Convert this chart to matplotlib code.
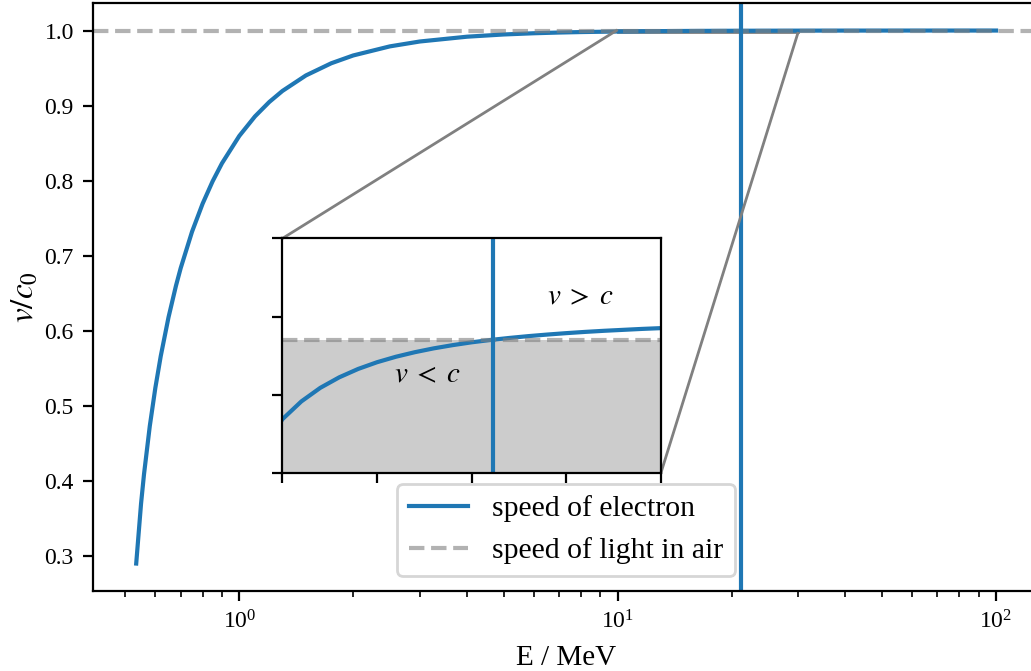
import matplotlib
matplotlib.use("Agg")
import matplotlib.pyplot as plt
from mpl_toolkits.axes_grid1.inset_locator import mark_inset

plt.rcParams['font.family'] = ['Liberation Serif', 'DejaVu Serif']
plt.rcParams['mathtext.fontset'] = 'stix'

# energy of the electron in MeV and its speed v/c0
energy = [0.534, 0.55, 0.56, 0.58, 0.6, 0.62, 0.65, 0.68, 0.7, 0.75, 0.8, 0.85,
          0.9, 1.0, 1.1, 1.2, 1.3, 1.5, 1.75, 2.0, 2.5, 3.0, 4.0, 5.0, 6.0,
          7.0, 8.0, 10, 11, 12, 13, 14, 15, 16, 17, 18, 19, 20, 21, 22, 23,
          24, 25, 26, 27, 28, 29, 30, 40, 60, 100]
speed = [0.290, 0.3699, 0.4091, 0.4731, 0.5241, 0.5663, 0.6180, 0.6598,
         0.6835, 0.7320, 0.7694, 0.7991, 0.8232, 0.8596, 0.8856, 0.9048,
         0.9195, 0.9402, 0.9564, 0.9668, 0.9789, 0.9854, 0.9918, 0.99476,
         0.99637, 0.99733, 0.99796, 0.998693, 0.998920, 0.999093, 0.999227,
         0.999334, 0.999420, 0.999490, 0.999548, 0.999597, 0.999638,
         0.999674, 0.999704, 0.999730, 0.999753, 0.999773, 0.999791,
         0.999807, 0.999821, 0.999833, 0.999845, 0.999855, 0.999918,
         0.999964, 0.999987]

light_in_air = 0.999707   # c / n_air
threshold = 21.12          # MeV, where v = c

fig = plt.figure(figsize=(5.155, 3.355), dpi=200)
ax = fig.add_axes([0.0905, 0.1192, 0.9173, 0.8758])

ax.plot(energy, speed, color='C0', label='speed of electron')
ax.axhline(light_in_air, color='gray', alpha=0.6, ls='--',
           label='speed of light in air')
ax.axvline(threshold, color='C0')

ax.set_xscale('log')
ax.set_xlim(0.4113, 129.9)
ax.set_ylim(0.2534, 1.0362)
ax.set_xlabel('E / MeV', fontsize=10.5)
ax.set_ylabel(r'$v/c_0$', fontsize=12, labelpad=1.5)
ax.tick_params(labelsize=8.5)
ax.legend(loc='lower center', fontsize=10.7)

# zoom around the threshold
axins = ax.inset_axes([0.2, 0.2, 0.4, 0.4])
axins.plot(energy, speed, color='C0')
axins.axhline(light_in_air, color='gray', alpha=0.6, ls='--')
axins.axvline(threshold, color='C0')
axins.fill_between([10, 30], 0.998, light_in_air, color='gray', alpha=0.4, lw=0)
axins.set_xlim(10, 30)
axins.set_ylim(0.998, 1.001)
axins.set_xticks([10, 15, 20, 25, 30])
axins.set_yticks([0.998, 0.999, 1.000, 1.001])
axins.set_xticklabels([])
axins.set_yticklabels([])
axins.text(25.75, 1.00025, r'$v\;>\;c$', fontsize=10.5, ha='center', va='center')
axins.text(17.7, 0.99925, r'$v\;<\;c$', fontsize=10.5, ha='center', va='center')

mark_inset(ax, axins, loc1=2, loc2=4, fc='none', ec='0.5')

fig.savefig('out.png', dpi=200)
